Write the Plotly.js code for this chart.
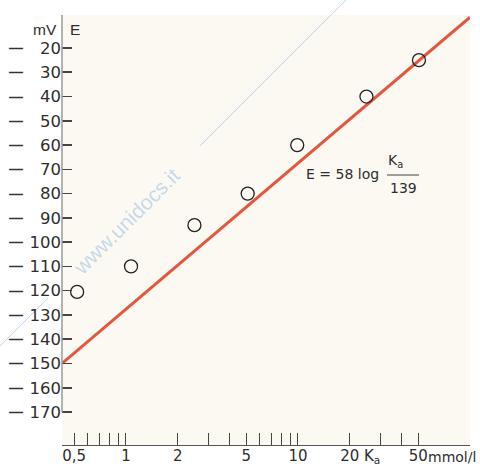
<!DOCTYPE html>
<html><head><meta charset="utf-8">
<script src="https://cdn.plot.ly/plotly-3.0.1.min.js"></script>
<style>body{margin:0;background:#fff}#c{width:480px;height:466px}</style>
</head><body><div id="c"></div>
<script>
// data
const concK = [0.52, 1.07, 2.5, 5.1, 9.9, 25, 50.5];        // mmol/l
const potE  = [-120.5, -110, -93, -80, -60, -40, -25];       // mV
const lineK = [0.425, 100];
const lineE = [-150, -7.3];
const yTickVals = [-20,-30,-40,-50,-60,-70,-80,-90,-100,-110,-120,-130,-140,-150,-160,-170];
const yTickText = ["20","30","40","50","60","70","80","90","100","110","120","130","140","150","160","170"];
const xTickVals = [0.5,1,2,5,10,20,50];
const xTickText = ["0,5","1","2","5","10","20","50"];
const xMinorVals = [0.6,0.7,0.8,0.9,3,4,6,7,8,9,30,40];

// pixel helpers for paper placement (plot area: x 62..470, y 15..445)
const L=62, R=470, T=15, B=445;
const px = X => (X-L)/(R-L);
const py = Y => (B-Y)/(B-T);

const fam = '"DejaVu Sans", Verdana, sans-serif';
const lib = '"Liberation Sans", Arial, sans-serif';
const yfont = {family:fam, size:16.5, color:'#2e2e2e'};
const xfont = {family:fam, size:15, color:'#2e2e2e'};
const tfont = {family:fam, size:14, color:'#2e2e2e'};

const annotations = [];
yTickVals.forEach(v => {
  annotations.push({xref:'paper', yref:'y', x:px(15.5), y:v, text:'<b>—</b>', showarrow:false,
    xanchor:'center', yanchor:'middle', font:{family:lib, size:14, color:'#333'}});
});
annotations.push(
  {xref:'paper', yref:'paper', x:px(59), y:py(29), text:'mV', showarrow:false, xanchor:'right', yanchor:'middle', font:{family:lib, size:15.5, color:'#2e2e2e'}},
  {xref:'paper', yref:'paper', x:px(68), y:py(29), text:'E', showarrow:false, xanchor:'left', yanchor:'middle', font:{family:lib, size:15.5, color:'#2e2e2e'}},
  {xref:'paper', yref:'paper', x:px(362), y:py(457), text:'K<sub>a</sub>', showarrow:false, xanchor:'left', yanchor:'middle', font:xfont},
  {xref:'paper', yref:'paper', x:px(426), y:py(457), text:'mmol/l', showarrow:false, xanchor:'left', yanchor:'middle', font:{family:fam, size:14, color:'#2e2e2e'}},
  {xref:'paper', yref:'paper', x:px(304), y:py(174), text:'E = 58 log', showarrow:false, xanchor:'left', yanchor:'middle', font:tfont},
  {xref:'paper', yref:'paper', x:px(386), y:py(161), text:'K<sub>a</sub>', showarrow:false, xanchor:'left', yanchor:'middle', font:tfont},
  {xref:'paper', yref:'paper', x:px(403), y:py(188), text:'139', showarrow:false, xanchor:'center', yanchor:'middle', font:tfont},
  {xref:'paper', yref:'paper', x:px(126), y:py(221), text:'www.unidocs.it', showarrow:false, textangle:-45,
    xanchor:'center', yanchor:'middle', font:{family:lib, size:21, color:'rgba(130,175,225,0.45)'}}
);

const wm = 'rgba(130,175,225,0.55)';
const shapes = [
  {type:'line', xref:'paper', yref:'y', x0:0, x1:0, y0:-170, y1:-6.4, line:{color:'#9a9a9a', width:1.5}},
  {type:'line', xref:'paper', yref:'paper', x0:px(387), x1:px(419), y0:py(175), y1:py(175), line:{color:'#444', width:1}},
  {type:'line', xref:'paper', yref:'paper', x0:px(0), x1:px(48), y0:py(346), y1:py(298), line:{color:wm, width:1}, layer:'below'},
  {type:'line', xref:'paper', yref:'paper', x0:px(200), x1:px(348), y0:py(146), y1:py(-2), line:{color:wm, width:1}, layer:'below'}
];

const traces = [
  {x:lineK, y:lineE, mode:'lines', line:{color:'#e2583f', width:3}, hoverinfo:'skip'},
  {x:concK, y:potE, mode:'markers', marker:{symbol:'circle-open', size:13, color:'#222', line:{width:1.3, color:'#222'}}}
];

const layout = {
  width:480, height:466,
  margin:{l:L, r:480-R, t:T, b:466-B},
  paper_bgcolor:'#ffffff', plot_bgcolor:'#fcf9f3',
  showlegend:false,
  font:yfont,
  xaxis:{type:'log', range:[-0.372, 2.0], tickmode:'array', tickvals:xTickVals, ticktext:xTickText,
    ticks:'inside', ticklen:12, tickcolor:'#444', tickwidth:1, ticklabelstandoff:-3,
    minor:{tickmode:'array', tickvals:xMinorVals, ticks:'inside', ticklen:12, tickcolor:'#444', tickwidth:1, showgrid:false},
    showline:true, linecolor:'#555', linewidth:1.2, showgrid:false, zeroline:false,
    tickfont:xfont, fixedrange:true},
  yaxis:{range:[-183.6, -6.4], tickvals:yTickVals, ticktext:yTickText,
    ticks:'inside', ticklen:10, tickcolor:'#444', tickwidth:1.6,
    showline:false, showgrid:false, zeroline:false, tickfont:yfont, fixedrange:true},
  annotations:annotations,
  shapes:shapes
};

Plotly.newPlot('c', traces, layout, {displayModeBar:false, staticPlot:true});
</script></body></html>
